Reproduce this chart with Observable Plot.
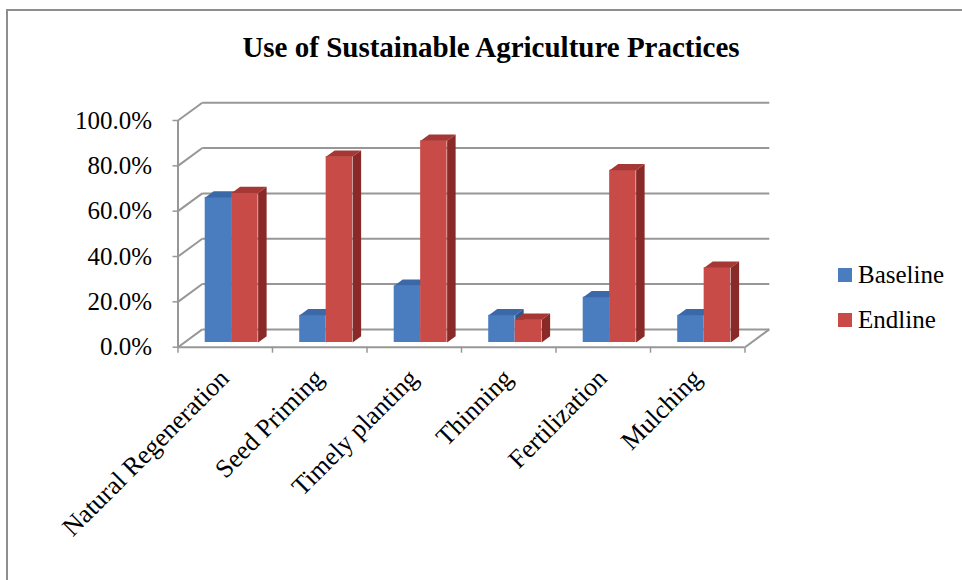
<!DOCTYPE html>
<html>
<head>
<meta charset="utf-8">
<script src="https://cdn.jsdelivr.net/npm/d3@7"></script>
<script src="https://cdn.jsdelivr.net/npm/@observablehq/plot@0.6"></script>
<style>
  html, body { margin: 0; padding: 0; background: #fff; }
  #chart { position: relative; width: 962px; height: 580px; overflow: hidden; font-family: "Liberation Serif", "Times New Roman", serif; }
  #frame { position: absolute; left: 6px; top: 9px; width: 1000px; height: 600px; border-left: 2px solid #8e8e8e; border-top: 2px solid #8e8e8e; }
  #title { position: absolute; left: 0; width: 982px; top: 33px; line-height: 29px; text-align: center; font-weight: bold; font-size: 29px; color: #000; }
  .legend { position: absolute; left: 838px; font-size: 25px; line-height: 25px; color: #000; white-space: nowrap; }
  .legend span.sw { display: inline-block; width: 14px; height: 14px; margin-right: 6px; vertical-align: 1px; }
  #plot { position: absolute; left: 0; top: 0; }
  #plot svg text { font-family: "Liberation Serif", "Times New Roman", serif; }
</style>
</head>
<body>
<div id="chart">
  <div id="frame"></div>
  <div id="title">Use of Sustainable Agriculture Practices</div>
  <div id="plot"></div>
  <div id="legend"></div>
</div>
<script>
// Share of households using each practice (%)
const categories = ["Natural Regeneration", "Seed Priming", "Timely planting", "Thinning", "Fertilization", "Mulching"];
const baseline = [64, 12, 25, 12, 20, 12];
const endline = [66, 82, 89, 10, 76, 33];
const seriesNames = ["Baseline", "Endline"];
const yTicks = [0, 20, 40, 60, 80, 100];

// Faces of each series: front, top, side
const palette = {
  Baseline: {front: "#4a7dbf", top: "#3b69a8", side: "#2f5790"},
  Endline: {front: "#c94b48", top: "#a53835", side: "#8a2a28"}
};

// Oblique projection of the depth axis, in data units (x: categories, y: percent)
const DEPTH_X = 0.257;
const DEPTH_Y = 7.85;
const BAR_FRONT = 0.264;  // depth of the bars' front face
const BAR_DEPTH = 0.35;   // depth of each bar
const BAR_WIDTH = 0.28;   // width of each bar, in category units

const series = [baseline, endline];
const bars = [];
series.forEach((values, s) => {
  values.forEach((v, i) => {
    const cx = i + 0.5 + BAR_FRONT * DEPTH_X;
    const x1 = cx + (s - 1) * BAR_WIDTH;
    const x2 = x1 + BAR_WIDTH;
    const y1 = BAR_FRONT * DEPTH_Y;
    const y2 = v + y1;
    bars.push({series: seriesNames[s], category: categories[i], value: v, x1, x2, y1, y2});
  });
});

const bdx = BAR_DEPTH * DEPTH_X;
const bdy = BAR_DEPTH * DEPTH_Y;
const topFaces = bars.flatMap((b, k) => [
  {k, series: b.series, x: b.x1, y: b.y2},
  {k, series: b.series, x: b.x2, y: b.y2},
  {k, series: b.series, x: b.x2 + bdx, y: b.y2 + bdy},
  {k, series: b.series, x: b.x1 + bdx, y: b.y2 + bdy}
]);
const sideFaces = bars.flatMap((b, k) => [
  {k, series: b.series, x: b.x2, y: b.y1},
  {k, series: b.series, x: b.x2, y: b.y2},
  {k, series: b.series, x: b.x2 + bdx, y: b.y2 + bdy},
  {k, series: b.series, x: b.x2 + bdx, y: b.y1 + bdy}
]);

const nCat = categories.length;
const gridColor = "#979797";
const serif = "Liberation Serif, Times New Roman, serif";

// Bars are painted series by series so each Endline bar covers its Baseline neighbour's side
const barMarks = seriesNames.flatMap((name) => [
  Plot.rect(bars.filter((b) => b.series === name), {x1: "x1", x2: "x2", y1: "y1", y2: "y2", fill: palette[name].front}),
  Plot.line(topFaces.filter((p) => p.series === name), {x: "x", y: "y", z: "k", fill: palette[name].top, stroke: "none"}),
  Plot.line(sideFaces.filter((p) => p.series === name), {x: "x", y: "y", z: "k", fill: palette[name].side, stroke: "none"})
]);

const chart = Plot.plot({
  width: 962,
  height: 580,
  marginLeft: 177.5,
  marginRight: 217.5,
  marginTop: 120,
  marginBottom: 233.3,
  style: {background: "transparent", overflow: "visible", fontFamily: serif},
  x: {type: "linear", domain: [0, nCat], axis: null},
  y: {type: "linear", domain: [0, 100], axis: null},
  marks: [
    // back wall gridlines
    Plot.link(yTicks, {x1: DEPTH_X, x2: nCat + DEPTH_X, y1: (v) => v + DEPTH_Y, y2: (v) => v + DEPTH_Y, stroke: gridColor, strokeWidth: 2}),
    // side wall gridlines
    Plot.link(yTicks, {x1: 0, x2: DEPTH_X, y1: (v) => v, y2: (v) => v + DEPTH_Y, stroke: gridColor, strokeWidth: 2}),
    // floor: right edge
    Plot.link([0], {x1: nCat, x2: nCat + DEPTH_X, y1: 0, y2: DEPTH_Y, stroke: gridColor, strokeWidth: 2}),
    // front axes
    Plot.ruleX([0], {y1: 0, y2: 100, stroke: gridColor, strokeWidth: 2}),
    Plot.ruleY([0], {x1: 0, x2: nCat, stroke: gridColor, strokeWidth: 2}),
    Plot.axisY({
      ticks: yTicks, tickSize: 5, tickPadding: 21, stroke: gridColor, strokeWidth: 1.5, fill: "#000",
      tickFormat: (d) => d.toFixed(1) + "%", fontSize: 25, fontFamily: serif, label: null
    }),
    Plot.axisX({
      ticks: d3.range(nCat + 1), tickSize: 6, stroke: gridColor, strokeWidth: 1.5,
      tickFormat: () => "", label: null
    }),
    ...barMarks,
    // category labels
    Plot.text(categories, {
      x: (d, i) => i + 0.5, y: 0, text: (d) => d, rotate: -45, textAnchor: "end",
      dx: -0.6, dy: 26.7, fontSize: 26, fontFamily: serif, fill: "#000"
    })
  ]
});

document.getElementById("plot").appendChild(chart);

// Legend
const legend = document.getElementById("legend");
seriesNames.forEach((name, i) => {
  const row = document.createElement("div");
  row.className = "legend";
  row.style.top = (262 + i * 45) + "px";
  row.innerHTML = `<span class="sw" style="background:${palette[name].front}"></span>${name}`;
  legend.appendChild(row);
});
</script>
</body>
</html>
